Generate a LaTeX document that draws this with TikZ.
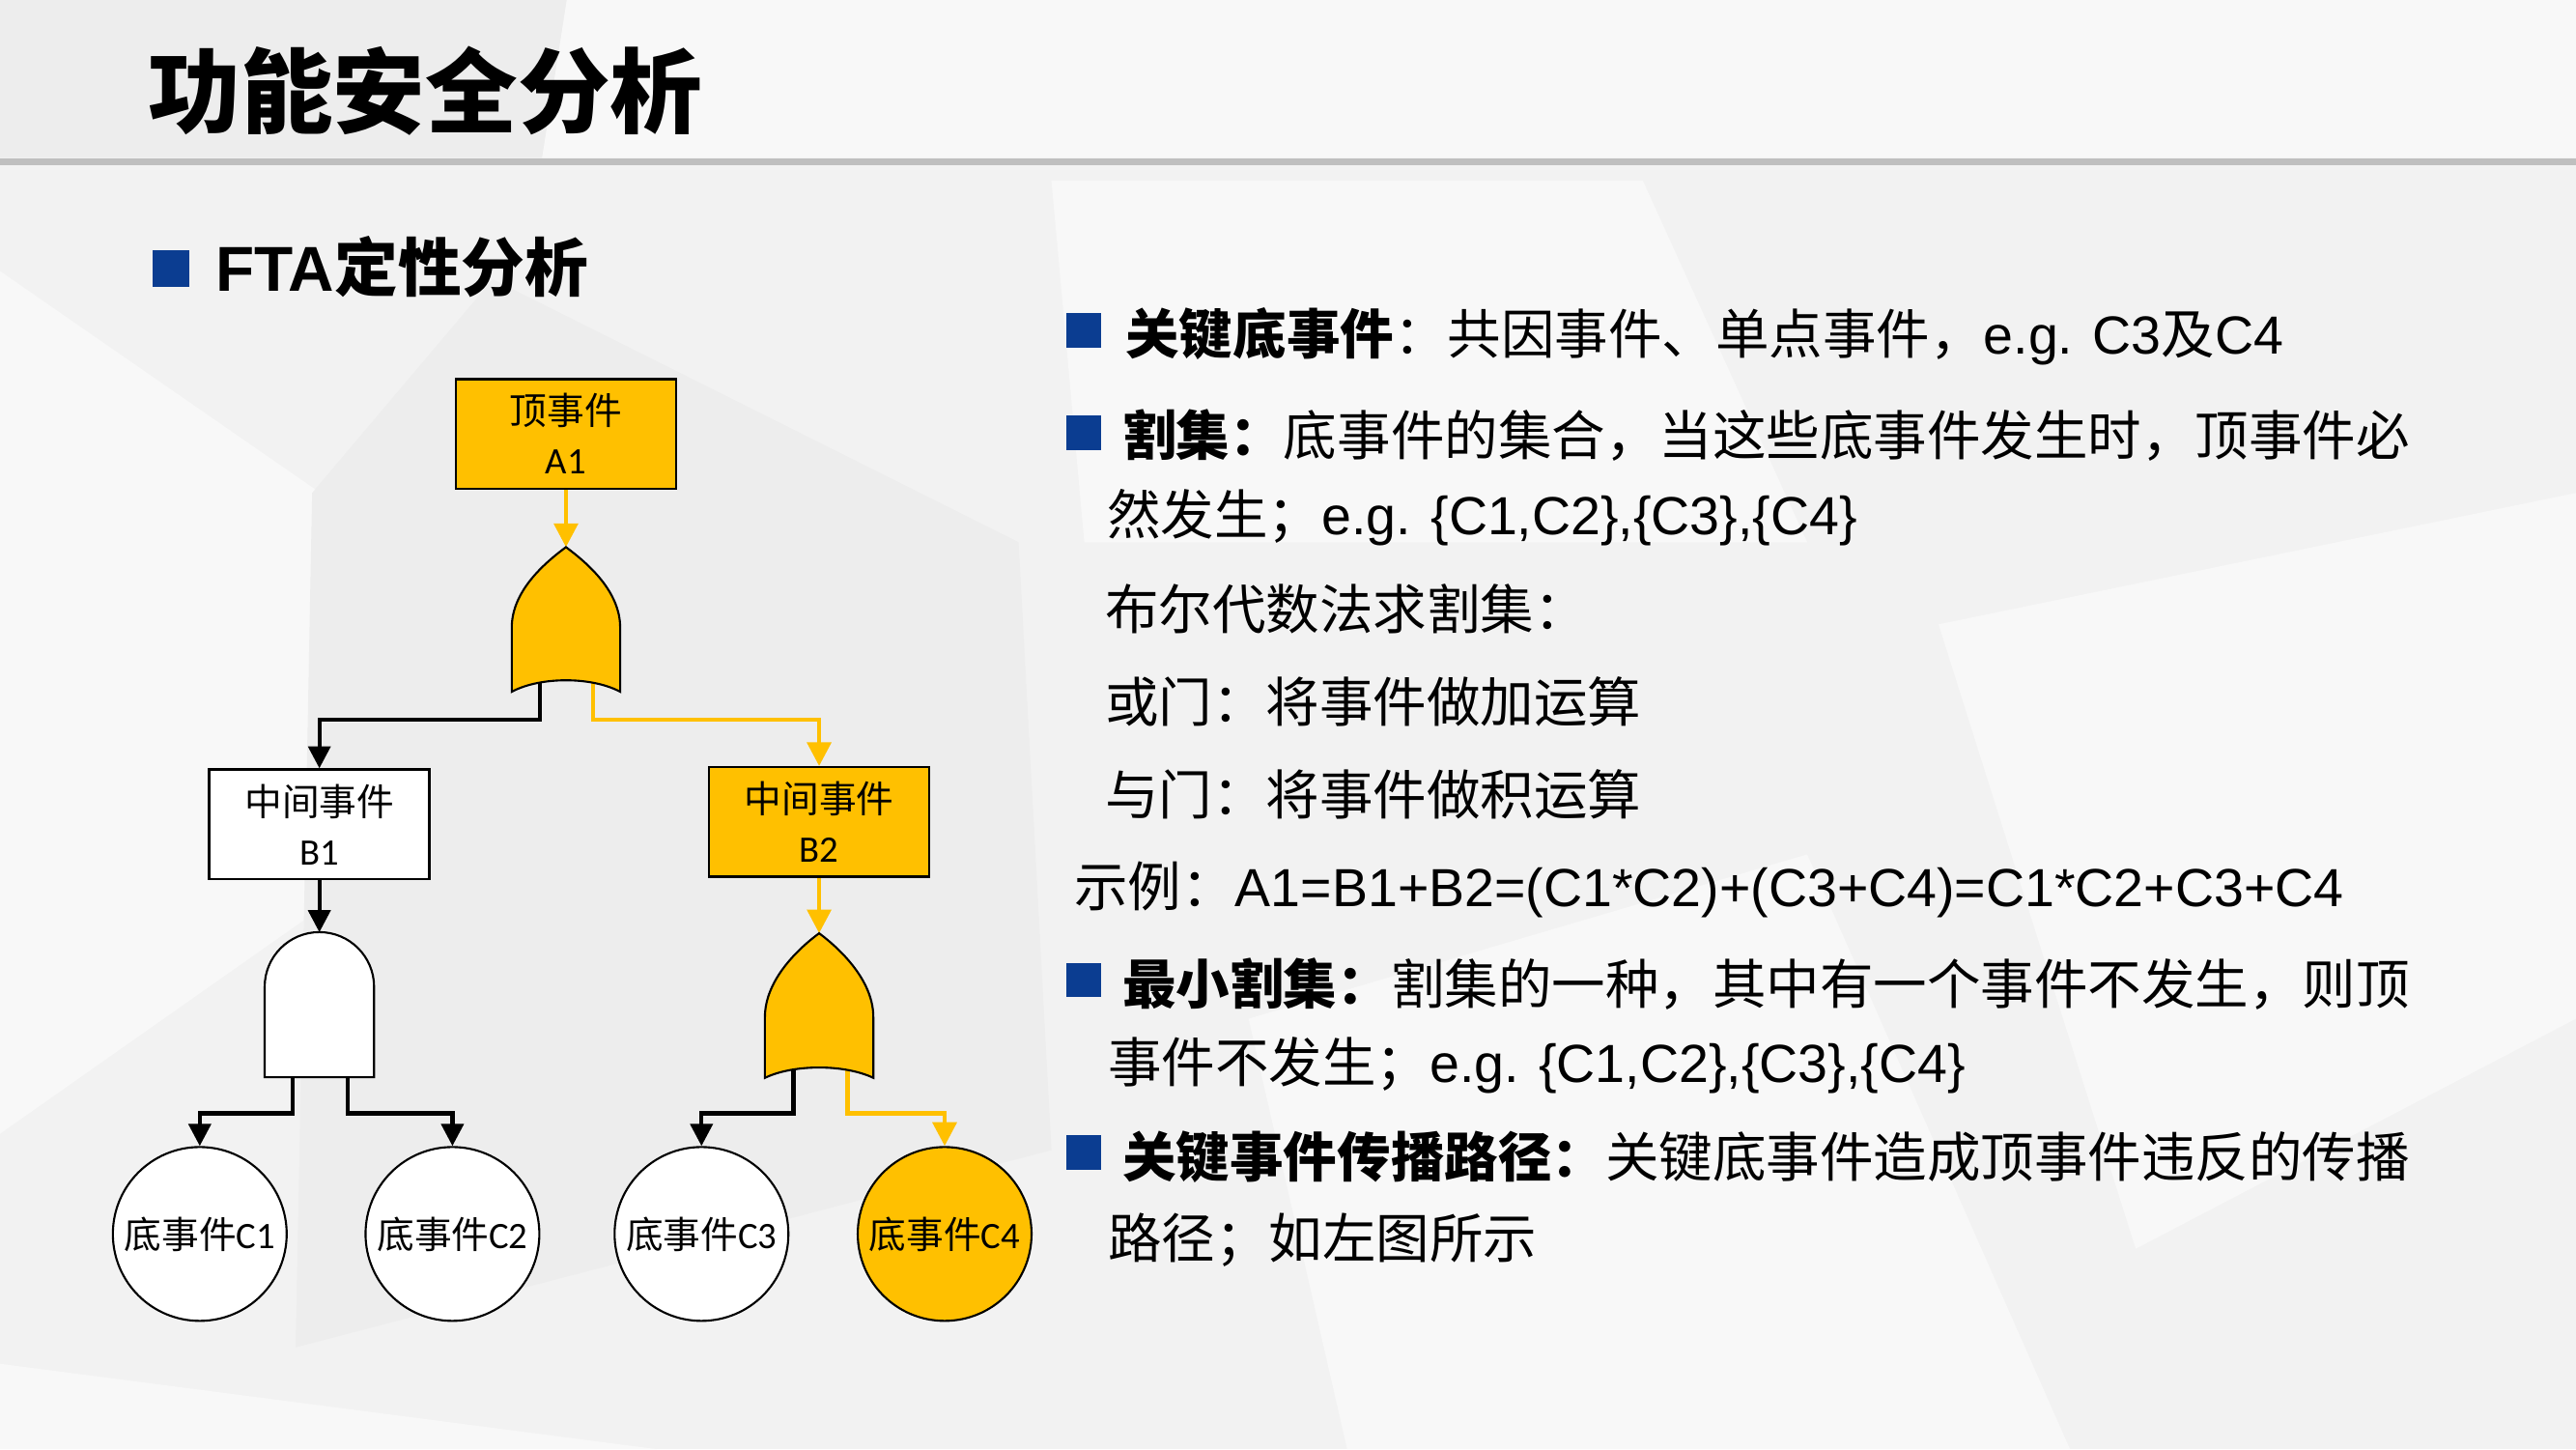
\documentclass[tikz,border=0pt]{standalone}
\usepackage{fontspec}
\setmainfont{Liberation Sans}
\newfontfamily\cjk{Noto Sans CJK SC}
\newfontfamily\calfont{Carlito}
\usetikzlibrary{arrows.meta}
\definecolor{gold}{HTML}{FFC000}
\definecolor{navy}{RGB}{11,61,145}
\definecolor{sepline}{HTML}{BFBFBF}
\definecolor{bgbase}{HTML}{F2F2F2}
\definecolor{bglite}{HTML}{F8F8F8}
\definecolor{bgdark}{HTML}{EDEDED}
\begin{document}
\begin{tikzpicture}[x=0.017009cm,y=-0.017009cm,
  blk/.style={draw=black,line width=1.2pt,-{Triangle[length=6.5pt,width=6.5pt]}},
  gld/.style={draw=gold,line width=1.3pt,-{Triangle[length=7pt,width=7pt]}},
  evbox/.style={draw=black,line width=0.7pt,minimum width=2.28cm,minimum height=1.135cm,inner sep=0pt,align=center,font=\fontsize{11}{14.5}\selectfont},
  basic/.style={circle,draw=black,line width=0.6pt,minimum size=1.80cm,inner sep=0pt,font=\fontsize{11}{13}\selectfont},
  gate/.style={draw=black,line width=0.6pt},
  txt/.style={anchor=base west,inner sep=0pt,font=\fontsize{15.8}{19}\selectfont}
]
\useasboundingbox (0,0) rectangle (1568,882);
% background facets
\fill[bgbase] (0,0) rectangle (1568,882);
\fill[bgdark] (0,0) -- (345,0) -- (330,96) -- (0,96) -- cycle;
\fill[bglite] (345,0) -- (1568,0) -- (1568,96) -- (330,96) -- cycle;
\fill[bglite] (0,165) -- (195,300) -- (185,560) -- (0,690) -- cycle;
\fill[bgdark] (190,300) -- (300,170) -- (620,330) -- (640,700) -- (180,820) -- cycle;
\fill[bglite] (640,110) -- (1000,110) -- (1100,330) -- (660,330) -- cycle;
\fill[bglite] (1180,380) -- (1568,300) -- (1568,620) -- (1300,760) -- cycle;
\fill[bglite] (760,620) -- (1100,520) -- (1260,882) -- (820,882) -- cycle;
\fill[bglite] (0,830) -- (400,882) -- (0,882) -- cycle;
% title and separator
\draw[sepline,line width=2.2pt] (0,98.5) -- (1568,98.5);
\node[anchor=base west,inner sep=0pt,font=\fontsize{27.2}{30}\selectfont\cjk\bfseries] (title) at (90,76.8) {功能安全分析};
\fill[navy] (93,152) rectangle (115.5,174.4);
\node[anchor=base west,inner sep=0pt,font=\fontsize{18.7}{22}\selectfont\bfseries] (sub) at (131,177.4) {FTA{\cjk 定性分析}};
% tree nodes
\node[evbox,fill=gold] (A1) at (344.5,264) {{\cjk 顶事件}\\{\calfont A1}};
\node[evbox,fill=white] (B1) at (194.4,501.7) {{\cjk 中间事件}\\{\calfont B1}};
\node[evbox,fill=gold] (B2) at (498.6,500.3) {{\cjk 中间事件}\\{\calfont B2}};
\node[basic,fill=white] (C1) at (121.6,751) {{\cjk 底事件}{\calfont C1}};
\node[basic,fill=white] (C2) at (275.4,751) {{\cjk 底事件}{\calfont C2}};
\node[basic,fill=white] (C3) at (427,751) {{\cjk 底事件}{\calfont C3}};
\node[basic,fill=gold] (C4) at (575,751) {{\cjk 底事件}{\calfont C4}};
% gate anchor points
\coordinate (g1top) at (344.5,333);
\coordinate (g1L) at (328.5,412);
\coordinate (g1R) at (361,412);
\coordinate (a1top) at (194.4,567.4);
\coordinate (a1L) at (178,650);
\coordinate (a1R) at (211.5,650);
\coordinate (g2top) at (498.6,568);
\coordinate (g2L) at (483,648);
\coordinate (g2R) at (516,648);
\coordinate (k1) at (B1.north |- 0,438);
\coordinate (k2) at (B2.north |- 0,438);
\coordinate (k3) at (C1.north |- 0,677.6);
\coordinate (k4) at (C2.north |- 0,677.6);
\coordinate (k5) at (C3.north |- 0,677.6);
\coordinate (k6) at (C4.north |- 0,677.6);
% connectors
\draw[gld] (A1.south) -- (g1top);
\draw[blk] (g1L) |- (k1) -- (B1.north);
\draw[gld] (g1R) |- (k2) -- (B2.north);
\draw[blk] (B1.south) -- (a1top);
\draw[blk] (a1L) |- (k3) -- (C1.north);
\draw[blk] (a1R) |- (k4) -- (C2.north);
\draw[gld] (B2.south) -- (g2top);
\draw[blk] (g2L) |- (k5) -- (C3.north);
\draw[gld] (g2R) |- (k6) -- (C4.north);
% gates
\filldraw[gate,fill=gold] (311.5,421) -- (311.5,382) .. controls (311.5,360) and (331,343) .. (g1top)
  .. controls (358,343) and (377.5,360) .. (377.5,382) -- (377.5,421)
  .. controls (360,411.7) and (329,411.7) .. (311.5,421) -- cycle;
\filldraw[gate,fill=white] (161.1,655.6) -- (161.1,600.6) arc[start angle=180,end angle=360,radius=33.3] -- (227.7,655.6) -- cycle;
\filldraw[gate,fill=gold] (465.6,656) -- (465.6,619) .. controls (465.6,597) and (485,578) .. (g2top)
  .. controls (512,578) and (531.6,597) .. (531.6,619) -- (531.6,656)
  .. controls (514,647.6) and (483,647.6) .. (465.6,656) -- cycle;
% right-hand text
\fill[navy] (649,190.5) rectangle (670,211.5);
\node[txt] (t1) at (684.8,215.6) {{\cjk\bfseries 关键底事件}{\cjk ：共因事件、单点事件，}e.g. C3{\cjk 及}C4};
\fill[navy] (649,253) rectangle (670,274);
\node[txt] (t2) at (683,277.5) {{\cjk\bfseries 割集：}{\cjk 底事件的集合，当这些底事件发生时，顶事件必}};
\node[txt] (t3) at (673.5,325.3) {{\cjk 然发生；}e.g. \{C1,C2\},\{C3\},\{C4\}};
\node[txt] (t4) at (672.3,383) {{\cjk 布尔代数法求割集：}};
\node[txt] (t5) at (672.3,439.5) {{\cjk 或门：将事件做加运算}};
\node[txt] (t6) at (672.3,495.7) {{\cjk 与门：将事件做积运算}};
\node[txt] (t7) at (653.5,552) {{\cjk 示例：}A1=B1+B2=(C1*C2)+(C3+C4)=C1*C2+C3+C4};
\fill[navy] (649,586) rectangle (670,607);
\node[txt] (t8) at (683,611) {{\cjk\bfseries 最小割集：}{\cjk 割集的一种，其中有一个事件不发生，则顶}};
\node[txt] (t9) at (674,658.8) {{\cjk 事件不发生；}e.g. \{C1,C2\},\{C3\},\{C4\}};
\fill[navy] (649,691) rectangle (670,712);
\node[txt] (t10) at (683,716.2) {{\cjk\bfseries 关键事件传播路径：}{\cjk 关键底事件造成顶事件违反的传播}};
\node[txt] (t11) at (674,765.7) {{\cjk 路径；如左图所示}};
\end{tikzpicture}
\end{document}
